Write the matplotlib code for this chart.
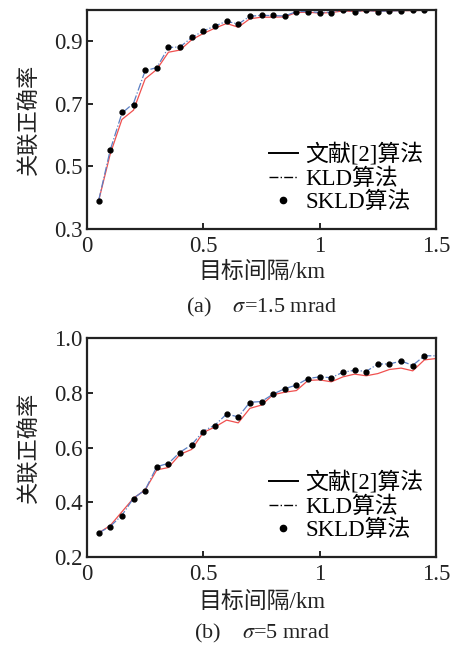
import matplotlib
matplotlib.use("Agg")
from matplotlib import pyplot as plt
from matplotlib.lines import Line2D
import numpy as np

plt.rcParams['font.family'] = ['Liberation Serif', 'Noto Sans CJK SC']
plt.rcParams['mathtext.fontset'] = 'stix'

x = np.arange(1, 31) * 0.05
x_dot = x[:29]

# (a) sigma = 1.5 mrad
ref_a = [0.390, 0.540, 0.650, 0.680, 0.780, 0.810, 0.865, 0.872, 0.905, 0.925,
         0.942, 0.957, 0.945, 0.972, 0.977, 0.977, 0.978, 0.992, 0.993, 0.990,
         0.992, 0.997, 0.995, 0.998, 0.996, 0.997, 0.998, 0.998, 0.999, 0.999]
kld_a = [0.391, 0.553, 0.670, 0.702, 0.806, 0.816, 0.880, 0.882, 0.912, 0.933,
         0.949, 0.964, 0.955, 0.980, 0.983, 0.982, 0.981, 0.995, 0.995, 0.992,
         0.993, 0.999, 0.995, 0.999, 0.996, 0.997, 0.998, 0.999, 0.999, 0.999]
skld_a = [0.391, 0.553, 0.674, 0.697, 0.808, 0.815, 0.881, 0.881, 0.913, 0.933,
          0.949, 0.965, 0.955, 0.981, 0.983, 0.983, 0.981, 0.995, 0.995, 0.992,
          0.992, 1.000, 0.994, 1.000, 0.995, 0.997, 0.997, 1.000, 1.000]

# (b) sigma = 5 mrad
ref_b = [0.288, 0.315, 0.365, 0.415, 0.445, 0.518, 0.527, 0.575, 0.593, 0.655,
         0.675, 0.700, 0.690, 0.743, 0.755, 0.793, 0.802, 0.808, 0.845, 0.847,
         0.840, 0.858, 0.868, 0.862, 0.870, 0.885, 0.890, 0.880, 0.920, 0.925]
kld_b = [0.288, 0.312, 0.352, 0.415, 0.445, 0.530, 0.542, 0.583, 0.610, 0.660,
         0.682, 0.722, 0.712, 0.765, 0.768, 0.795, 0.815, 0.828, 0.852, 0.858,
         0.855, 0.875, 0.882, 0.878, 0.905, 0.905, 0.916, 0.900, 0.935, 0.935]
skld_b = [0.288, 0.310, 0.349, 0.413, 0.442, 0.529, 0.540, 0.580, 0.609, 0.658,
          0.680, 0.724, 0.711, 0.764, 0.766, 0.794, 0.814, 0.827, 0.851, 0.858,
          0.855, 0.875, 0.882, 0.877, 0.905, 0.905, 0.916, 0.899, 0.935]

labels = ['文献[2]算法', 'KLD算法', 'SKLD算法']

fig = plt.figure(figsize=(4.54, 6.47), dpi=100)
W, H = 454.0, 647.0
ax1 = fig.add_axes([87 / W, 1 - 229 / H, 349 / W, 219 / H])
ax2 = fig.add_axes([87 / W, 1 - 557 / H, 349 / W, 219 / H])

txtc = '#222222'


def draw(ax, ref, kld, skld, ylim, yticks, ylabels, xlab_y, cap_y, caption):
    ax.plot(x, ref, color='#f0504f', lw=0.9)
    ax.plot(x, kld, color='#5b7fc4', lw=0.9, ls='-.')
    ax.plot(x_dot, skld, 'o', color='black', ms=3.5)
    ax.set_xlim(0, 1.5)
    ax.set_ylim(*ylim)
    ax.set_xticks([0, 0.5, 1, 1.5])
    ax.set_xticklabels(['0', '0.5', '1', '1.5'])
    ax.set_yticks(yticks)
    ax.set_yticklabels(ylabels)
    ax.tick_params(direction='in', length=4, width=1.2, labelsize=16.5,
                   labelcolor=txtc)
    ax.tick_params(axis='x', pad=5)
    ax.tick_params(axis='y', pad=3)
    for s in ax.spines.values():
        s.set_linewidth(1.6)
        s.set_color('#222222')
    ax.set_ylabel('关联正确率', fontsize=16, labelpad=10, color=txtc)
    handles = [Line2D([], [], color='black', lw=1.4),
               Line2D([], [], color='black', lw=1.0, ls='-.'),
               Line2D([], [], color='black', marker='o', ls='none', ms=4.5)]
    ax.legend(handles, labels, loc='lower right', frameon=False, fontsize=16.5,
              handlelength=1.3, handletextpad=0.3, labelspacing=0.1,
              borderaxespad=0.0, bbox_to_anchor=(0.99, 0.03))
    fig.text(0.5 * (87 + 436) / W, 1 - xlab_y / H, '目标间隔/km', ha='center',
             va='center', fontsize=16.5, color=txtc)
    fig.text(0.5 * (87 + 436) / W, 1 - cap_y / H, caption, ha='center',
             va='center', fontsize=16, color=txtc)


draw(ax1, ref_a, kld_a, skld_a, (0.3, 1.0), [0.3, 0.5, 0.7, 0.9],
     ['0.3', '0.5', '0.7', '0.9'], 272, 307, '(a)    $\\sigma$=1.5 mrad')
draw(ax2, ref_b, kld_b, skld_b, (0.2, 1.0), [0.2, 0.4, 0.6, 0.8, 1.0],
     ['0.2', '0.4', '0.6', '0.8', '1.0'], 602, 633, '(b)    $\\sigma$=5 mrad')

fig.savefig('out.png', dpi=100)
